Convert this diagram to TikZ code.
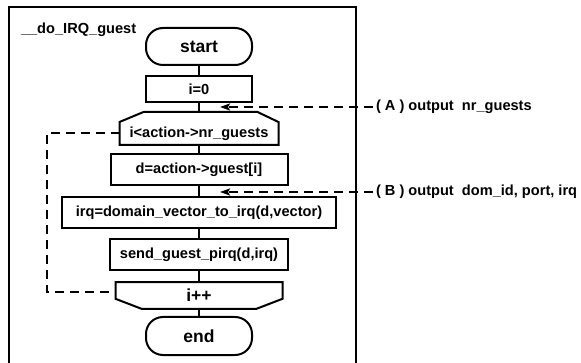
\documentclass[tikz,border=0pt]{standalone}
\usepackage{fontspec}
\setmainfont{Liberation Sans}
\usetikzlibrary{arrows.meta}

\begin{document}
\begin{tikzpicture}[x=1pt, y=-1pt, >={Stealth[length=10pt, width=7pt, inset=2pt]}, line width=2pt,
        every node/.style={font=\fontsize{14.6}{17}\selectfont\bfseries, inner sep=2pt},
        big/.style={font=\fontsize{17.5}{20}\selectfont\bfseries},
        box/.style={draw, minimum width=#1, minimum height=31pt},
        term/.style={draw, big, rounded corners=17pt, minimum width=106pt, minimum height=37pt},
        flow/.style={line width=1.5pt},
        tap/.style={->, dash pattern=on 9pt off 6pt}]
        \useasboundingbox (0,0) rectangle (581,363);
        \draw (9,364) |- (356,7) -- (356,364);
        \node[anchor=west] (title) at (18,30) {\_\_do\_IRQ\_guest};

        \node[term] (start) at (199,46.5) {start};
        \node[box=106pt, minimum height=26pt] (init) at (199,89) {i=0};
        \node[minimum width=157pt, minimum height=21pt] (cond) at (199,133.5) {i<action->nr\_guests};
        \node[box=177pt] (getd) at (199,169.5) {d=action->guest[i]};
        \node[box=274pt] (irq) at (199,212.5) {irq=domain\_vector\_to\_irq(d,vector)};
        \node[box=178pt] (send) at (199,254.5) {send\_guest\_pirq(d,irq)};
        \node[big, minimum width=165pt, minimum height=24.6pt] (incr) at (199,295.5) {i++};
        \node[term, minimum height=38pt] (stop) at (199,336) {end};

        \draw (cond.north west) -- ([shift={(24pt,10pt)}]cond.north west)
            -- ([shift={(-21pt,10pt)}]cond.north east) -- (cond.north east)
            -- (cond.south east) -- (cond.south west) -- cycle;
        \draw (incr.north west) -- (incr.north east) -- ([yshift=10pt]incr.south east)
            -- ([xshift=-26pt]incr.south east) -- ([xshift=26pt]incr.south west)
            -- ([yshift=10pt]incr.south west) -- cycle;

        \draw[flow] (start) -- (init);
        \draw[flow] (init) -- ([yshift=10pt]cond.north);
        \draw[flow] (cond) -- (getd);
        \draw[flow] (getd) -- (irq);
        \draw[flow] (irq) -- (send);
        \draw[flow] (send) -- (incr);
        \draw[flow] (incr) -- (stop);
        \draw[dash pattern=on 9pt off 6pt] (cond.west) -- ++(-73,0) |- ([yshift=3.5pt]incr.west);

        \node[anchor=west] (outA) at (373,107) {( A ) output\ \ nr\_guests};
        \node[anchor=west] (outB) at (373,192) {( B ) output\ \ dom\_id, port, irq};
        \coordinate (tipA) at (220,107);
        \coordinate (tipB) at (220,192);
        \draw[tap] (outA.west) -- (tipA);
        \draw[tap] (outB.west) -- (tipB);
    \end{tikzpicture}
\end{document}
